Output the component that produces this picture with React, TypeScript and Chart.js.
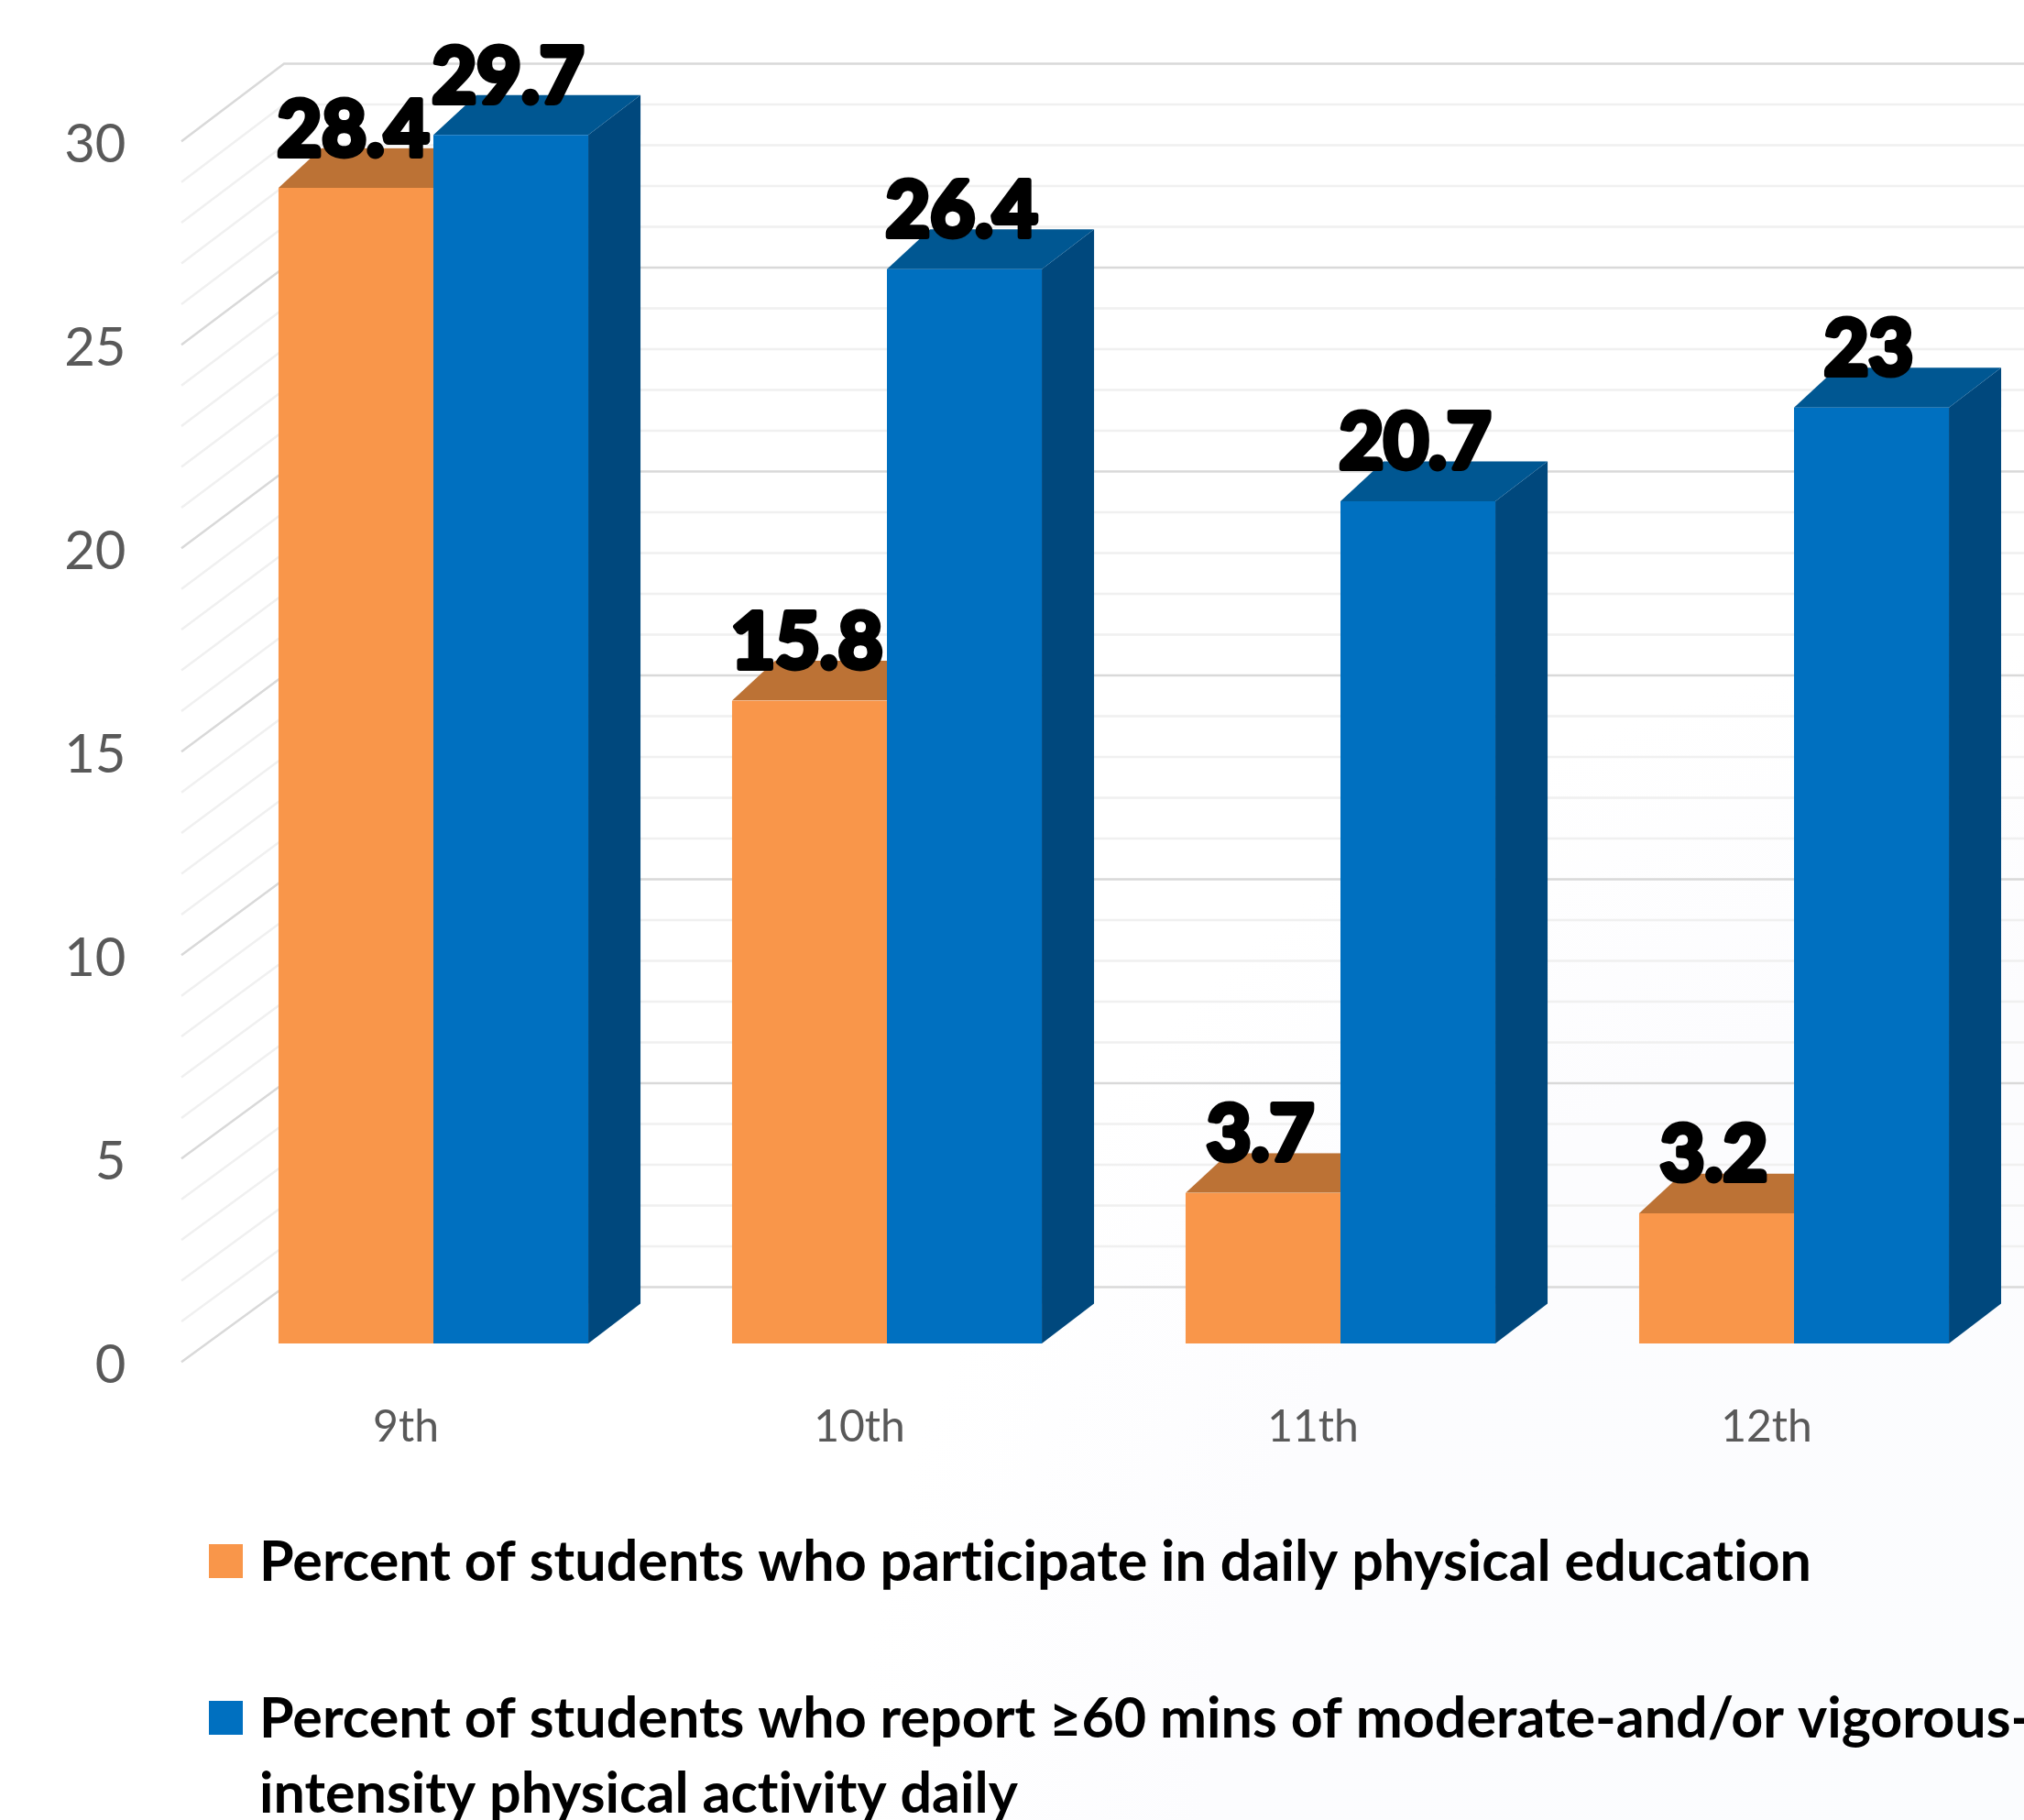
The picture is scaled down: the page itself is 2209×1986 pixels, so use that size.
import React, { useEffect, useRef } from "react";
import { Chart, registerables } from "chart.js";

Chart.register(...registerables);

const grades = ["9th", "10th", "11th", "12th"];
const dailyPE = [28.4, 15.8, 3.7, 3.2];
const activity60 = [29.7, 26.4, 20.7, 23];
const legendOrangeLines = ["Percent of students who participate in daily physical education"];
const legendBlueLines = [
  "Percent of students who report ≥60 mins of moderate-and/or vigorous-",
  "intensity physical activity daily",
];
const ORANGE = "#F9964A";
const ORANGE_TOP = "#BC7235";
const BLUE = "#0070C0";
const BLUE_TOP = "#005792";
const BLUE_SIDE = "#00487D";
const FONT = "Lato";

const DEPTH_Y = 43.5;
const DEPTH_LEFT = 47;
const DEPTH_RIGHT = 57;

function poly(ctx: CanvasRenderingContext2D, pts: number[][], fill: string) {
  ctx.beginPath();
  pts.forEach((p, i) => (i ? ctx.lineTo(p[0], p[1]) : ctx.moveTo(p[0], p[1])));
  ctx.closePath();
  ctx.fillStyle = fill;
  ctx.fill();
}

const wallPlugin = {
  id: "wall",
  beforeDatasetsDraw(chart: any) {
    const { ctx, scales } = chart;
    const y = scales.y;
    const leftFront = 198;
    const leftBack = 310;
    ctx.save();
    for (let v = 0; v <= 30; v++) {
      const p = y.getPixelForValue(v);
      const major = v % 5 === 0;
      const back = p - 61.5 - v * 0.1;
      ctx.strokeStyle = major ? "#d9d9d9" : "#f0f0f0";
      ctx.lineWidth = 2.5;
      ctx.beginPath();
      ctx.moveTo(leftFront, p + 20.3);
      ctx.lineTo(leftBack, back);
      ctx.lineTo(chart.width, back);
      ctx.stroke();
    }
    ctx.restore();
  },
};

const depthPlugin = {
  id: "depth",
  beforeDatasetDraw(chart: any, args: any) {
    const { ctx } = chart;
    const isBlue = args.index === 1;
    args.meta.data.forEach((bar: any) => {
      const xl = bar.x - bar.width / 2;
      const xr = bar.x + bar.width / 2;
      const top = bar.y;
      const base = bar.base;
      ctx.save();
      if (isBlue) {
        poly(ctx, [[xr, top], [xr + DEPTH_RIGHT, top - DEPTH_Y], [xr + DEPTH_RIGHT, base - DEPTH_Y], [xr, base]], BLUE_SIDE);
      } else {
        // the taller neighbour hides whatever lies right of this bar
        ctx.beginPath();
        ctx.rect(xl, top - DEPTH_Y, xr - xl, DEPTH_Y);
        ctx.clip();
      }
      poly(ctx, [[xl, top], [xl + DEPTH_LEFT, top - DEPTH_Y], [xr + DEPTH_RIGHT, top - DEPTH_Y], [xr, top]], isBlue ? BLUE_TOP : ORANGE_TOP);
      ctx.restore();
    });
  },
};

const labelPlugin = {
  id: "labels",
  afterDatasetsDraw(chart: any) {
    const { ctx, data } = chart;
    ctx.save();
    ctx.font = `bold 84px ${FONT}`;
    ctx.textAlign = "center";
    ctx.textBaseline = "alphabetic";
    ctx.lineJoin = "round";
    ctx.lineWidth = 6;
    ctx.strokeStyle = "#000";
    ctx.fillStyle = "#000";
    data.datasets.forEach((ds: any, i: number) => {
      chart.getDatasetMeta(i).data.forEach((bar: any, j: number) => {
        const t = String(ds.data[j]);
        ctx.strokeText(t, bar.x - 3, bar.y - 35.5);
        ctx.fillText(t, bar.x - 3, bar.y - 35.5);
      });
    });
    ctx.restore();
  },
};

const legendPlugin = {
  id: "legendBlock",
  afterDraw(chart: any) {
    const { ctx } = chart;
    ctx.save();
    ctx.font = `bold 61px ${FONT}`;
    (ctx as any).letterSpacing = "0.01px";
    ctx.textAlign = "left";
    ctx.textBaseline = "alphabetic";
    const draw = (color: string, swatchY: number, lines: string[], baseY: number) => {
      ctx.fillStyle = color;
      ctx.fillRect(228, swatchY, 37, 37);
      ctx.fillStyle = "#000";
      lines.forEach((l, i) => ctx.fillText(l, 283, baseY + i * 82));
    };
    draw(ORANGE, 1685, legendOrangeLines, 1725);
    draw(BLUE, 1856, legendBlueLines, 1896);
    ctx.restore();
  },
};

export default function App() {
  const ref = useRef<HTMLCanvasElement>(null);
  useEffect(() => {
    document.body.style.margin = "0";
    const chart = new Chart(ref.current!, {
      type: "bar",
      data: {
        labels: grades,
        datasets: [
          { label: legendOrangeLines[0], data: dailyPE, backgroundColor: ORANGE },
          { label: legendBlueLines.join(" "), data: activity60, backgroundColor: BLUE },
        ],
      },
      options: {
        animation: false,
        responsive: false,
        devicePixelRatio: 1,
        layout: { padding: { top: 134, right: 3.5, left: 0, bottom: 0 } },
        plugins: { legend: { display: false }, tooltip: { enabled: false } },
        datasets: { bar: { categoryPercentage: 0.683, barPercentage: 1 } },
        scales: {
          x: {
            grid: { display: false },
            border: { display: false },
            afterFit: (s: any) => { s.height = 520; },
            ticks: {
              color: "#595959",
              font: { family: FONT, size: 48 },
              padding: 55,
              labelOffset: -30,
              maxRotation: 0,
            },
          },
          y: {
            min: 0,
            max: 30,
            grid: { display: false },
            border: { display: false },
            afterFit: (s: any) => { s.width = 225.5; },
            ticks: {
              stepSize: 5,
              color: "#595959",
              font: { family: FONT, size: 58 },
              padding: 80,
              labelOffset: 24,
            },
          },
        },
      },
      plugins: [wallPlugin, depthPlugin, labelPlugin, legendPlugin],
    } as any);
    return () => chart.destroy();
  }, []);
  return (
    <div
      style={{
        position: "absolute",
        left: 0,
        top: 0,
        width: 2209,
        height: 1986,
        background: "radial-gradient(circle at 100% 100%, #fbfcfe 0%, #fcfcfe 30%, #ffffff 43%)",
      }}
    >
      <canvas ref={ref} width={2209} height={1986} style={{ display: "block" }} />
    </div>
  );
}
